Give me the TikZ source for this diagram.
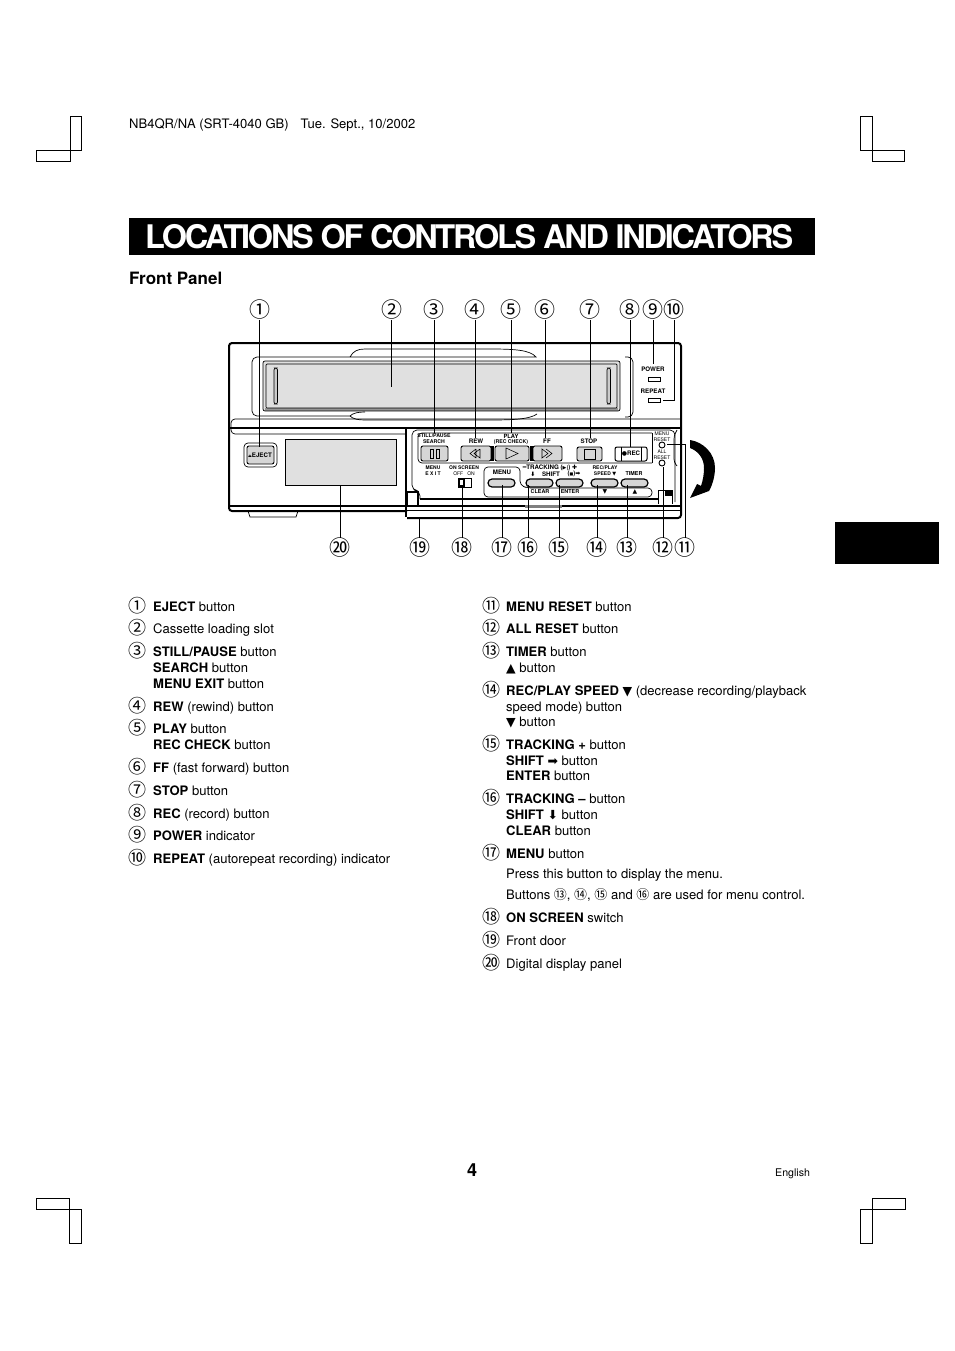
\documentclass[tikz,border=0pt]{standalone}
\usepackage{fontspec}
\setmainfont{TeX Gyre Heros}
\newfontfamily\cjkfont{Noto Sans CJK JP}
\newfontfamily\symfont{DejaVu Sans}
\usetikzlibrary{arrows.meta,positioning,calc}
\definecolor{slotgr}{RGB}{224,224,224}
\definecolor{btngr}{RGB}{214,214,214}
\definecolor{bandgr}{RGB}{150,150,150}
\newcommand{\SY}[1]{{\symfont #1}}
\newcommand{\SYL}[1]{{\symfont\fontsize{12.5}{12.5}\selectfont #1}}
\newcommand{\CI}[1]{{\cjkfont\fontsize{13}{13}\selectfont #1}}
\newcommand{\TI}{\fontsize{6.2}{7}\selectfont\bfseries}
\newcommand{\TX}{\fontsize{5}{6}\selectfont}
\tikzset{
  callout/.style={font=\cjkfont\fontsize{21}{21}\selectfont,inner sep=0pt},
  listno/.style={font=\cjkfont\fontsize{18}{18}\selectfont,inner sep=0pt},
  item/.style={anchor=base west,font=\fontsize{13.05}{15}\selectfont,inner sep=0pt},
  lead/.style={line width=0.9pt},
  body/.style={line width=0.7pt},
  symb/.style={line width=0.55pt},
  heavy/.style={line width=2pt},
  crop/.style={line width=1pt},
  tiny/.style={font=\TI,inner sep=0pt},
  small/.style={font=\TX,inner sep=0pt},
  btn/.style={line width=0.9pt,fill=btngr,rounded corners=2pt},
  oval/.style={line width=1.2pt,fill=btngr,rounded corners=4pt}
}

\begin{document}
\begin{tikzpicture}[x=1pt,y=-1pt]
  \useasboundingbox (0,0) rectangle (954,1351);

  % crop marks
  \draw[crop] (70,117) rectangle (81,151);
  \draw[crop] (36,151) rectangle (70,162);
  \draw[crop] (860,117) rectangle (872,151);
  \draw[crop] (872,151) rectangle (904,162);
  \draw[crop] (36,1198) rectangle (69,1209);
  \draw[crop] (69,1209) rectangle (81,1243);
  \draw[crop] (872,1198) rectangle (905,1209);
  \draw[crop] (860,1209) rectangle (872,1243);

  % header and title
  \node[item] (header) at (129,129) {NB4QR/NA (SRT-4040 GB)\hspace{12pt}Tue. Sept., 10/2002};
  \fill[black] (129,218) rectangle (815,255);
  \node[anchor=base west,inner sep=0pt,text=white,font=\fontsize{32.5}{33}\selectfont\bfseries\addfontfeature{LetterSpace=-7}] (title) at (145,248) {LOCATIONS OF CONTROLS AND INDICATORS};
  \node[anchor=base west,inner sep=0pt,font=\fontsize{17}{17}\selectfont\bfseries] (front) at (129,284) {Front Panel};
  \fill[black] (835,522) rectangle (939,564);

  % recorder body
  \draw[heavy,rounded corners=3pt] (407,511) -- (229,511) -- (229,343) -- (681,343) -- (681,518) -- (407,518);
  \draw[body,rounded corners=5pt] (350,357) -- (252,357) -- (252,416) -- (350,416);
  \draw[body] (350,357) .. controls (353,351) and (358,349) .. (365,349) -- (490,349) .. controls (515,349) and (530,350) .. (536,357) -- (350,357);
  \draw[body] (350,416) .. controls (353,413) and (358,412) .. (365,412);
  \draw[body] (350,416) .. controls (353,419) and (358,420) .. (365,420) -- (490,420) .. controls (515,420) and (530,419) .. (537,414);
  \draw[body,rounded corners=5pt] (625,357) -- (633,357) -- (633,417) -- (625,417);

  % cassette slot
  \fill[slotgr] (263,361) rectangle (620,411);
  \fill[bandgr] (265,408) rectangle (618,411);
  \draw[body,rounded corners=2pt] (263,361) rectangle (620,411);
  \draw[body,rounded corners=1pt] (266,364) rectangle (617,408);
  \draw[body,rounded corners=2pt,fill=bandgr!50] (274,368) rectangle (277.5,404);
  \draw[body,rounded corners=2pt,fill=bandgr!50] (607,368) rectangle (610.5,404);

  % indicators
  \node[tiny] (power) at (653,369) {POWER};
  \draw[body] (648,377) rectangle (660,381);
  \node[tiny] (repeat) at (653,391) {REPEAT};
  \draw[body] (648,398) rectangle (660,402);

  % band under the slot
  \draw[body,rounded corners=4pt] (681,419) -- (231,419) -- (231,434) -- (405,434);
  \draw[line width=1.2pt] (229,428) -- (681,428);
  \draw[line width=1.6pt] (406,428) -- (406,517);

  % eject button and display
  \draw[body,rounded corners=4pt] (244,443) rectangle (277,467);
  \draw[btn] (247,446) rectangle (274,464);
  \node[tiny] (eject) at (260,455) {\SY{\fontsize{4}{4}\selectfont ⏏}EJECT};
  \draw[body,fill=slotgr] (285,439) rectangle (396,485);
  \draw[heavy] (229,506) -- (407,506);
  \draw[body] (248,511) -- (250,517) -- (296,517) -- (298,511);

  % front door
  \draw[body,rounded corners=5pt] (420,499) -- (420,491) -- (412,490) -- (412,430) -- (675,430) -- (675,502);
  \draw[line width=1.8pt] (407,492) rectangle (418,506);
  \draw[line width=1.1pt] (420,499) -- (658,499);
  \draw[heavy] (407,506) -- (681,506);
  \draw[body] (407,510.5) -- (681,510.5);
  \draw[line width=3pt,gray] (525,506) -- (562,506);

  % upper button block
  \draw[body,rounded corners=4pt] (652,433) -- (418,433) -- (418,463) -- (652,463);
  \draw[body] (652,433) -- (652,463);
  \draw[body,rounded corners=3pt] (677,430) -- (674,436) -- (674,462) -- (677,466);
  \node[small,font=\TI\fontsize{5.2}{6}\selectfont] (still) at (434,436) {STILL/PAUSE};
  \node[small,font=\TI\fontsize{5.2}{6}\selectfont] (search) at (434,442) {SEARCH};
  \draw[btn] (421,446) rectangle (448,461);
  \draw[symb] (430,449) rectangle (433,458);
  \draw[symb] (436,449) rectangle (439,458);
  \node[tiny] (rew) at (476,441) {REW};
  \draw[btn] (461,446) rectangle (491,461);
  \draw[symb] (476,449) -- (470,453.5) -- (476,458) (480,449) -- (474,453.5) -- (480,458) -- (480,449) (476,449) -- (476,458);
  \fill[black] (491,446) rectangle (494,461);
  \node[small,font=\TI\fontsize{5.8}{6}\selectfont] (play) at (511,436) {PLAY};
  \node[small,font=\TI\fontsize{5.2}{6}\selectfont] (reccheck) at (511,442) {(REC CHECK)};
  \draw[btn] (495,446) rectangle (529,461);
  \draw[symb] (506,448) -- (518,453.5) -- (506,459) -- cycle;
  \fill[black] (529.5,446) rectangle (532.5,461);
  \node[tiny] (ff) at (547,441) {FF};
  \draw[btn] (533,446) rectangle (562,461);
  \draw[symb] (542,449) -- (548,453.5) -- (542,458) -- cycle (546,449) -- (552,453.5) -- (546,458);
  \node[tiny] (stop) at (589,441) {STOP};
  \draw[btn] (577,447) rectangle (602,461);
  \draw[symb] (584,449) rectangle (595,459);
  \draw[line width=1pt,rounded corners=2pt] (615,447) rectangle (647,461);
  \draw[line width=1pt] (621,447) -- (621,461) (641,447) -- (641,461);
  \node[tiny] (rec) at (631,454) {\SY{\fontsize{6}{6}\selectfont ●}REC};

  % reset buttons
  \node[small] (mreset) at (662,434) {MENU};
  \node[small] (mreset2) at (662,440) {RESET};
  \draw[line width=0.9pt] (662,445) circle (3);
  \node[small] (areset) at (662,452) {ALL};
  \node[small] (areset2) at (662,458) {RESET};
  \draw[line width=0.9pt] (662,463) circle (3);

  % lower controls
  \node[small,font=\TI\fontsize{5}{6}\selectfont] (mexit) at (433,468) {MENU};
  \node[small,font=\TI\fontsize{5}{6}\selectfont] (mexit2) at (433,474) {E X I T};
  \node[small,font=\TI\fontsize{5}{6}\selectfont] (onscreen) at (464,468) {ON SCREEN};
  \node[small] (offon) at (464,474) {OFF\hspace{4pt}ON};
  \draw[body] (458,478) rectangle (471,487);
  \fill[black] (458,478) rectangle (465,487);
  \fill[white] (460,480) rectangle (463,485);
  \draw[body,rounded corners=4pt] (652,488) -- (527,488) -- (520,485) -- (520,467) -- (484,467) -- (484,497) -- (652,497) -- cycle;
  \node[tiny] (menu) at (502,472) {MENU};
  \draw[oval] (488,479) rectangle (515,487);
  \node[tiny] (track) at (550,468) {\SY{\fontsize{6}{6}\selectfont ━}TRACKING (\SY{\fontsize{5}{5}\selectfont ▶|}) \SY{\fontsize{6}{6}\selectfont ✚}};
  \node[tiny] (down) at (533,474) {\SY{\fontsize{6}{6}\selectfont ⬇}};
  \node[tiny] (shift) at (551,474) {SHIFT};
  \node[tiny] (stillicon) at (574,474) {(\SY{\fontsize{4}{4}\selectfont ■})\SY{\fontsize{6}{6}\selectfont ➡}};
  \draw[oval] (526,479) rectangle (553,487);
  \draw[oval] (556,479) rectangle (583,487);
  \node[small,font=\TI\fontsize{5}{6}\selectfont] (recplay) at (605,468) {REC/PLAY};
  \node[small,font=\TI\fontsize{5}{6}\selectfont] (speed) at (605,474) {SPEED \SY{\fontsize{5}{5}\selectfont ▼}};
  \node[tiny,font=\TI\fontsize{5.4}{6}\selectfont] (timer) at (634,474) {TIMER};
  \draw[oval] (591,479) rectangle (618,487);
  \draw[oval] (621,479) rectangle (648,487);
  \node[tiny,font=\TI\fontsize{5.4}{6}\selectfont] (clear) at (540,492) {CLEAR};
  \node[tiny,font=\TI\fontsize{5.4}{6}\selectfont] (enter) at (570,492) {ENTER};
  \node[tiny] (dn) at (605,492) {\SY{\fontsize{6}{6}\selectfont ▼}};
  \node[tiny] (up) at (635,492) {\SY{\fontsize{6}{6}\selectfont ▲}};

  % door catch and swing arrow
  \draw[body] (658,504) -- (658,490) -- (672,490) -- (672,504);
  \fill[black] (665,490) rectangle (672,496);
  \fill[black] (690,440) .. controls (703,442) and (715,453) .. (715,468) .. controls (715,475) and (713,484) .. (709,491) -- (690,498) -- (697,484) -- (701,486) .. controls (703,480) and (704,474) .. (704,468) .. controls (704,458) and (698,451) .. (690,448) -- cycle;

  % callouts, top row
  \node[callout] (n1) at (259.5,310) {①};
  \node[callout] (n2) at (391.5,310) {②};
  \node[callout] (n3) at (434,310) {③};
  \node[callout] (n4) at (475,310) {④};
  \node[callout] (n5) at (511,310) {⑤};
  \node[callout] (n6) at (545,310) {⑥};
  \node[callout] (n7) at (590,310) {⑦};
  \node[callout] (n8) at (630,310) {⑧};
  \node[callout] (n9) at (653,310) {⑨};
  \node[callout] (n10) at (674,310) {⑩};
  % callouts, bottom row
  \node[callout] (n20) at (340,548) {⑳};
  \node[callout] (n19) at (419.5,548) {⑲};
  \node[callout] (n18) at (462,548) {⑱};
  \node[callout] (n17) at (502,548) {⑰};
  \node[callout] (n16) at (528,548) {⑯};
  \node[callout] (n15) at (559,548) {⑮};
  \node[callout] (n14) at (597,548) {⑭};
  \node[callout] (n13) at (627,548) {⑬};
  \node[callout] (n12) at (663,548) {⑫};
  \node[callout] (n11) at (685,548) {⑪};

  % lead ends
  \coordinate (c1) at (259.5,447);
  \coordinate (c2) at (391.5,387);
  \coordinate (c3) at (434,433);
  \coordinate (c4) at (475,438);
  \coordinate (c5) at (511,433);
  \coordinate (c6) at (545,438);
  \coordinate (c7) at (590,438);
  \coordinate (c8) at (630,447);
  \coordinate (c9) at (653,364);
  \coordinate (c10) at (663,400);
  \coordinate (c11) at (667,444);
  \coordinate (c12) at (663,467);
  \coordinate (c13) at (627,485);
  \coordinate (c14) at (597,485);
  \coordinate (c15) at (559,485);
  \coordinate (c16) at (528,485);
  \coordinate (c17) at (502,485);
  \coordinate (c18) at (462,487);
  \coordinate (c19) at (419.5,517);
  \coordinate (c20) at (340,486);

  \draw[lead] (n1) -- (c1);
  \draw[lead] (n2) -- (c2);
  \draw[lead] (n3) -- (c3);
  \draw[lead] (n4) -- (c4);
  \draw[lead] (n5) -- (c5);
  \draw[lead] (n6) -- (c6);
  \draw[lead] (n7) -- (c7);
  \draw[lead] (n8) -- (c8);
  \draw[lead] (n9) -- (c9);
  \draw[lead] (n10) |- (c10);
  \draw[lead] (n11) |- (c11);
  \draw[lead] (n12) -- (c12);
  \draw[lead] (n13) -- (c13);
  \draw[lead] (n14) -- (c14);
  \draw[lead] (n15) -- (c15);
  \draw[lead] (n16) -- (c16);
  \draw[lead] (n17) -- (c17);
  \draw[lead] (n18) -- (c18);
  \draw[lead] (n19) -- (c19);
  \draw[lead] (n20) -- (c20);

  % left list
  \node[listno] (l1) at (137,606) {①};
  \node[item] (t1) at (153,611) {\textbf{EJECT} button};
  \node[listno] (l2) at (137,628) {②};
  \node[item] (t2) at (153,633) {Cassette loading slot};
  \node[listno] (l3) at (137,651) {③};
  \node[item] (t3a) at (153,656) {\textbf{STILL/PAUSE} button};
  \node[item] (t3b) at (153,672) {\textbf{SEARCH} button};
  \node[item] (t3c) at (153,688) {\textbf{MENU EXIT} button};
  \node[listno] (l4) at (137,706) {④};
  \node[item] (t4) at (153,711) {\textbf{REW} (rewind) button};
  \node[listno] (l5) at (137,728) {⑤};
  \node[item] (t5a) at (153,733) {\textbf{PLAY} button};
  \node[item] (t5b) at (153,749) {\textbf{REC CHECK} button};
  \node[listno] (l6) at (137,767) {⑥};
  \node[item] (t6) at (153,772) {\textbf{FF} (fast forward) button};
  \node[listno] (l7) at (137,790) {⑦};
  \node[item] (t7) at (153,795) {\textbf{STOP} button};
  \node[listno] (l8) at (137,813) {⑧};
  \node[item] (t8) at (153,818) {\textbf{REC} (record) button};
  \node[listno] (l9) at (137,835) {⑨};
  \node[item] (t9) at (153,840) {\textbf{POWER} indicator};
  \node[listno] (l10) at (137,858) {⑩};
  \node[item] (t10) at (153,863) {\textbf{REPEAT} (autorepeat recording) indicator};

  % right list
  \node[listno] (l11) at (491,606) {⑪};
  \node[item] (t11) at (506,611) {\textbf{MENU RESET} button};
  \node[listno] (l12) at (491,628) {⑫};
  \node[item] (t12) at (506,633) {\textbf{ALL RESET} button};
  \node[listno] (l13) at (491,651) {⑬};
  \node[item] (t13a) at (506,656) {\textbf{TIMER} button};
  \node[item] (t13b) at (506,672) {\SYL{▲} button};
  \node[listno] (l14) at (491,690) {⑭};
  \node[item] (t14a) at (506,695) {\textbf{REC/PLAY SPEED} \SYL{▼} (decrease recording/playback};
  \node[item] (t14b) at (506,711) {speed mode) button};
  \node[item] (t14c) at (506,726) {\SYL{▼} button};
  \node[listno] (l15) at (491,744) {⑮};
  \node[item] (t15a) at (506,749) {\textbf{TRACKING +} button};
  \node[item] (t15b) at (506,765) {\textbf{SHIFT} \SYL{➡} button};
  \node[item] (t15c) at (506,780) {\textbf{ENTER} button};
  \node[listno] (l16) at (491,798) {⑯};
  \node[item] (t16a) at (506,803) {\textbf{TRACKING –} button};
  \node[item] (t16b) at (506,819) {\textbf{SHIFT} \SYL{⬇} button};
  \node[item] (t16c) at (506,835) {\textbf{CLEAR} button};
  \node[listno] (l17) at (491,853) {⑰};
  \node[item] (t17a) at (506,858) {\textbf{MENU} button};
  \node[item] (t17b) at (506,878) {Press this button to display the menu.};
  \node[item] (t17c) at (506,899) {Buttons \CI{⑬}, \CI{⑭}, \CI{⑮} and \CI{⑯} are used for menu control.};
  \node[listno] (l18) at (491,917) {⑱};
  \node[item] (t18) at (506,922) {\textbf{ON SCREEN} switch};
  \node[listno] (l19) at (491,940) {⑲};
  \node[item] (t19) at (506,945) {Front door};
  \node[listno] (l20) at (491,963) {⑳};
  \node[item] (t20) at (506,968) {Digital display panel};

  % page foot
  \node[anchor=base,inner sep=0pt,font=\fontsize{18}{18}\selectfont\bfseries] (pageno) at (472,1176) {4};
  \node[anchor=base west,inner sep=0pt,font=\fontsize{10.6}{11}\selectfont] (lang) at (775,1176) {English};
\end{tikzpicture}
\end{document}
